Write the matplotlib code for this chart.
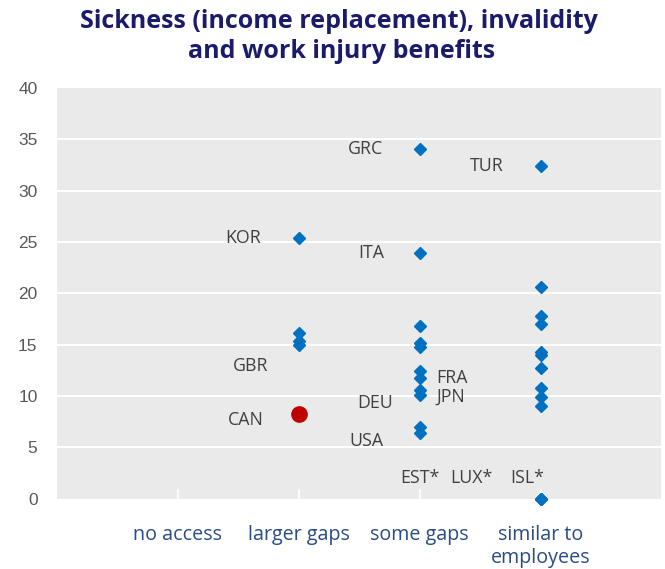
import matplotlib
matplotlib.use("Agg")
import matplotlib.pyplot as plt

# Category axis
categories = ["no access", "larger gaps", "some gaps", "similar to\nemployees"]

# Values per category
larger_gaps = [25.4, 16.1, 15.4, 15.0]
can_value = 8.3
some_gaps = [34.1, 23.9, 16.8, 15.2, 14.8, 12.4, 11.8, 10.6, 10.1, 7.0, 6.4]
similar = [32.4, 20.6, 17.8, 17.0, 14.3, 14.0, 12.7, 10.8, 9.9, 9.0, 0.0, 0.0, 0.0]

# Country labels: (name, category index, value, dx pt, dy pt, ha)
labels = [
    ("KOR", 2, 25.4, -40, 0, "center"),
    ("GBR", 2, 15.0, -35, -15, "center"),
    ("CAN", 2, 8.3, -38, -5, "center"),
    ("GRC", 3, 34.1, -39, 0, "center"),
    ("ITA", 3, 23.9, -35, 0, "center"),
    ("FRA", 3, 11.8, 12, 0, "left"),
    ("JPN", 3, 10.1, 12, -1, "left"),
    ("DEU", 3, 10.1, -32, -6, "center"),
    ("USA", 3, 6.4, -38, -6, "center"),
    ("TUR", 4, 32.4, -39, 0, "center"),
    ("EST*", 4, 0.0, -87, 15, "center"),
    ("LUX*", 4, 0.0, -50, 15, "center"),
    ("ISL*", 4, 0.0, -10, 15, "center"),
]

yticks = [0, 5, 10, 15, 20, 25, 30, 35, 40]

fig = plt.figure(figsize=(6.65, 5.69), dpi=100)
ax = fig.add_axes([0.0857, 0.1235, 0.909, 0.7218])
ax.set_facecolor("#EAEAEA")
ax.set_xlim(0, 5)
ax.set_ylim(0, 40)

for s in ax.spines.values():
    s.set_visible(False)

ax.set_yticks(yticks)
ax.set_yticklabels([str(t) for t in yticks], fontfamily="Liberation Sans",
                   fontsize=12.5, color="#595959")
ax.tick_params(axis="y", length=0, pad=14)
for t in yticks[1:-1]:
    ax.axhline(t, color="white", lw=1.5, zorder=1)

ax.set_xticks([1, 2, 3, 4])
ax.set_xticklabels(categories, fontfamily="Open Sans", fontsize=14.2,
                   color="#2A4B84", linespacing=1.2)
ax.tick_params(axis="x", direction="in", length=7, width=1.2, color="white",
               pad=19)
for lbl in ax.get_xticklabels():
    lbl.set_verticalalignment("top")

blue = "#0070C0"
ax.plot([2] * len(larger_gaps), larger_gaps, "D", color=blue, ms=6.3,
        zorder=3, clip_on=False)
ax.plot([3] * len(some_gaps), some_gaps, "D", color=blue, ms=6.3,
        zorder=3, clip_on=False)
ax.plot([4] * len(similar), similar, "D", color=blue, ms=6.3,
        zorder=3, clip_on=False)
ax.plot([2], [can_value], "o", color="#C00000", ms=11, zorder=4)

for name, cx, val, dx, dy, ha in labels:
    ax.annotate(name, xy=(cx, val), xytext=(dx, dy), textcoords="offset points",
                ha=ha, va="center", fontsize=12.8, fontfamily="Open Sans",
                color="#404040", zorder=5)

fig.text(0.51, 0.963, "Sickness (income replacement), invalidity",
         ha="center", va="center", fontsize=18, fontweight="bold",
         fontfamily="Open Sans", color="#1B1B6B")
fig.text(0.513, 0.909, "and work injury benefits",
         ha="center", va="center", fontsize=18, fontweight="bold",
         fontfamily="Open Sans", color="#1B1B6B")

fig.savefig("out.png", dpi=100)
